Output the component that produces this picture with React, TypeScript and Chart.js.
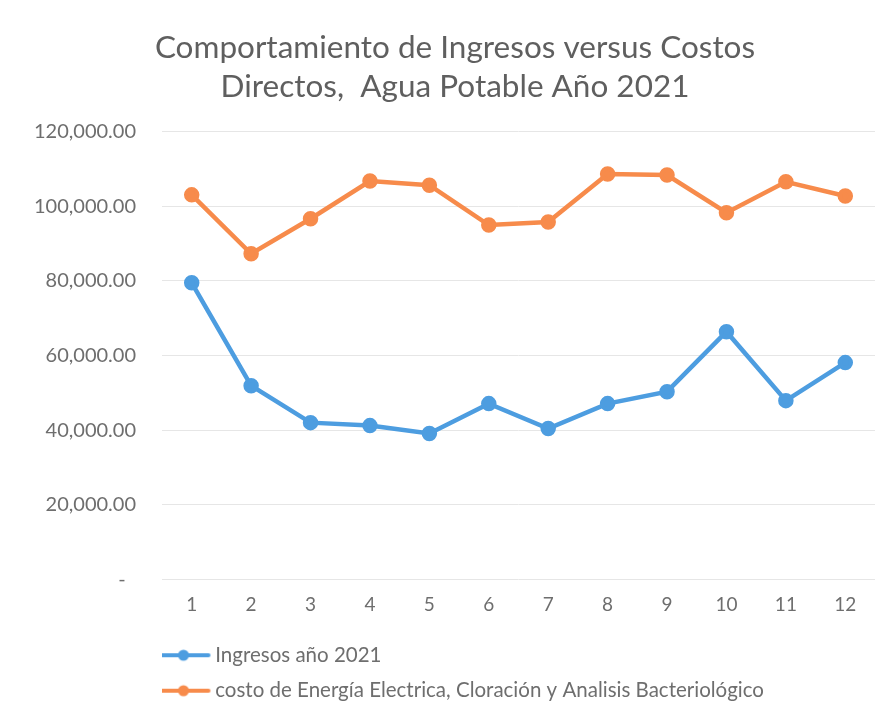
import React, { useEffect, useRef } from "react";
import { Chart, registerables } from "chart.js";

Chart.register(...registerables);

const months = ["1", "2", "3", "4", "5", "6", "7", "8", "9", "10", "11", "12"];
const ingresos = [79500, 51900, 42000, 41200, 39100, 47100, 40400, 47100, 50300, 66400, 47900, 58100];
const costos = [103100, 87300, 96700, 106800, 105700, 95000, 95800, 108700, 108400, 98300, 106600, 102800];
const titleLines = ["Comportamiento de Ingresos versus Costos", "Directos,  Agua Potable Año 2021"];
const seriesNames = ["Ingresos año 2021", "costo de Energía Electrica, Cloración y Analisis Bacteriológico"];

const BLUE = "#4d9de0";
const ORANGE = "#f78b4b";
const FONT = "Lato, 'Open Sans', sans-serif";
const TEXT = "#6e6e6e";

function legendMarker(color: string): HTMLCanvasElement {
  const c = document.createElement("canvas");
  c.width = 69;
  c.height = 14;
  const ctx = c.getContext("2d")!;
  ctx.strokeStyle = color;
  ctx.lineWidth = 4;
  ctx.lineCap = "round";
  ctx.beginPath();
  ctx.moveTo(2, 7);
  ctx.lineTo(52, 7);
  ctx.stroke();
  ctx.fillStyle = color;
  ctx.beginPath();
  ctx.arc(27, 7, 5.5, 0, Math.PI * 2);
  ctx.fill();
  return c;
}

export default function App() {
  const ref = useRef<HTMLCanvasElement>(null);
  useEffect(() => {
    const markers = [legendMarker(BLUE), legendMarker(ORANGE)];
    const chart = new Chart(ref.current!, {
      type: "line",
      data: {
        labels: months,
        datasets: [
          {
            label: seriesNames[0],
            data: ingresos,
            borderColor: BLUE,
            backgroundColor: BLUE,
            borderWidth: 4.5,
            pointRadius: 5.5,
            pointBackgroundColor: BLUE,
            pointBorderColor: BLUE,
            tension: 0,
          },
          {
            label: seriesNames[1],
            data: costos,
            borderColor: ORANGE,
            backgroundColor: ORANGE,
            borderWidth: 4.5,
            pointRadius: 5.5,
            pointBackgroundColor: ORANGE,
            pointBorderColor: ORANGE,
            tension: 0,
          },
        ],
      },
      options: {
        animation: false,
        responsive: true,
        maintainAspectRatio: false,
        layout: { padding: { left: 35, right: 18, top: 0, bottom: 0 } },
        plugins: {
          title: {
            display: true,
            text: titleLines,
            color: "#5f5f5f",
            font: { family: FONT, size: 31.5, weight: "normal", lineHeight: 1.22 },
            padding: { top: 29, bottom: 26 },
          },
          legend: {
            position: "bottom",
            align: "start",
            fullSize: false,
            maxHeight: 76,
            labels: {
              usePointStyle: true,
              pointStyleWidth: 28,
              padding: 15,
              color: TEXT,
              font: { family: FONT, size: 20.5 },
              generateLabels: (ch: any) =>
                ch.data.datasets.map((ds: any, i: number) => ({
                  text: ds.label,
                  fillStyle: ds.borderColor,
                  strokeStyle: ds.borderColor,
                  lineWidth: 0,
                  pointStyle: markers[i],
                  datasetIndex: i,
                  hidden: false,
                  fontColor: TEXT,
                })),
            },
          },
          tooltip: { enabled: false },
        },
        scales: {
          x: {
            offset: true,
            grid: { display: false, drawTicks: false },
            border: { display: false },
            ticks: { color: TEXT, font: { family: FONT, size: 19 }, padding: 14 },
          },
          y: {
            min: 0,
            max: 120000,
            afterFit: (s: any) => {
              s.width = 127;
            },
            grid: { color: "#e6e6e6", lineWidth: 1, drawTicks: false },
            border: { display: false },
            ticks: {
              stepSize: 20000,
              padding: 26,
              color: TEXT,
              font: { family: FONT, size: 20 },
              callback: (v: any) =>
                Number(v) === 0
                  ? "-  "
                  : Number(v).toLocaleString("en-US", { minimumFractionDigits: 2, maximumFractionDigits: 2 }),
            },
          },
        },
      },
    });
    return () => chart.destroy();
  }, []);
  return (
    <div style={{ position: "absolute", left: 0, top: 0, width: 893, height: 706, background: "#fff" }}>
      <canvas ref={ref} />
    </div>
  );
}
